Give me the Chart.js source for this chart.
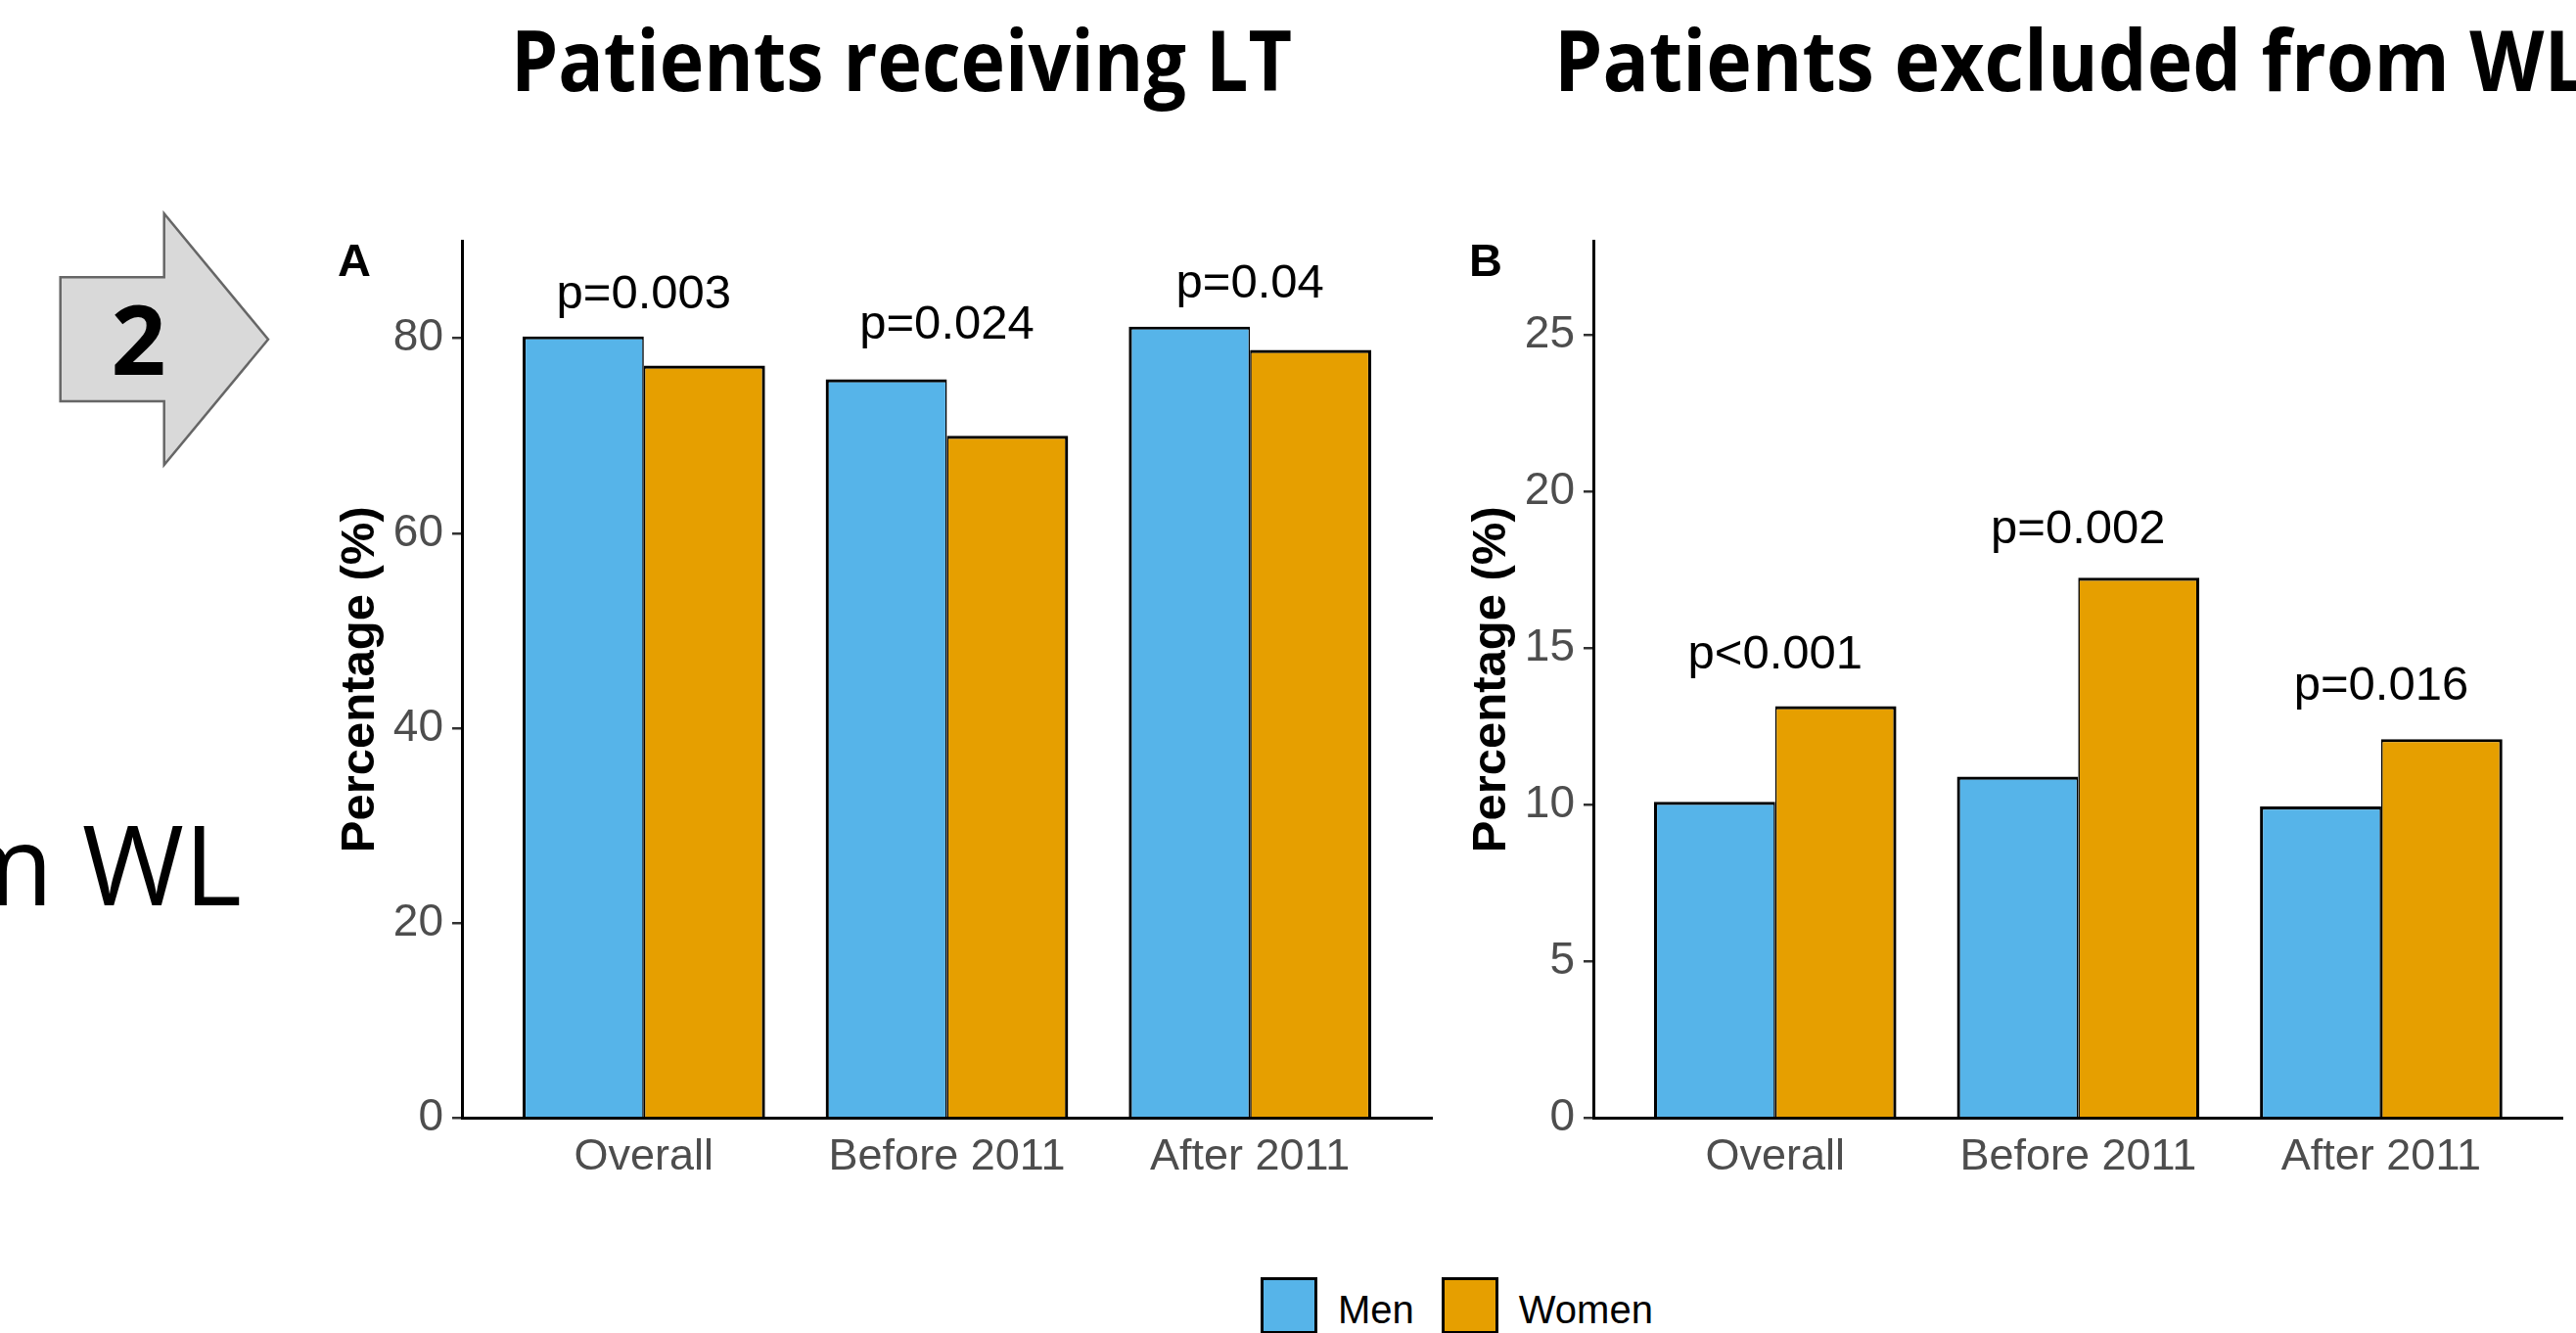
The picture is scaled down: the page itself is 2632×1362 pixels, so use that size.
<!DOCTYPE html>
<html>
<head>
<meta charset="utf-8">
<title>Patients receiving LT / excluded from WL</title>
<script src="https://cdn.jsdelivr.net/npm/chart.js@4.4.1/dist/chart.umd.min.js"></script>
<style>
  body { margin: 0; width: 2632px; height: 1362px; overflow: hidden; background: #fff; position: relative; }
  canvas, svg { position: absolute; }
  #legend { position: absolute; left: 1288px; top: 1305px; display: flex; align-items: flex-start;
            font-family: "Liberation Sans", Arial, sans-serif; font-size: 40px; line-height: 1; color: #000; }
  #legend .box { width: 58px; height: 58px; box-sizing: border-box; border: 3px solid #000; }
  #legend .txt { margin: 13px 28px 0 21px; }
  #legend .txt:last-child { margin-right: 0; }
</style>
</head>
<body>
<svg width="2632" height="1362" style="left:0;top:0">
  <polygon points="61.7,283.3 167.7,283.3 167.7,218.3 274,346.7 167.7,475 167.7,410 61.7,410"
           fill="#D9D9D9" stroke="#666666" stroke-width="2.5"/>
  <text x="141.5" y="383" text-anchor="middle" font-family="Open Sans" font-weight="700" font-size="98">2</text>
  <text x="522" y="93" textLength="798" lengthAdjust="spacingAndGlyphs"
        font-family="Open Sans" font-weight="700" font-size="86">Patients receiving LT</text>
  <text x="1588" y="93" textLength="1056" lengthAdjust="spacingAndGlyphs"
        font-family="Open Sans" font-weight="700" font-size="86">Patients excluded from WL</text>
  <text x="247" y="925" text-anchor="end" font-family="Open Sans" font-size="113">from WL</text>
</svg>
<canvas id="chartA" width="1180" height="1060" style="left:300px;top:200px"></canvas>
<canvas id="chartB" width="1176" height="1060" style="left:1456px;top:200px"></canvas>
<div id="legend"></div>

<script>
// data
const categories = ['Overall', 'Before 2011', 'After 2011'];
const seriesNames = ['Men', 'Women'];
const seriesColors = ['#56B4E9', '#E69F00'];

// panel A: patients receiving LT (%)
const ltMen = [80.2, 75.8, 81.2];
const ltWomen = [77.2, 70.0, 78.8];
const ltPText = ['p=0.003', 'p=0.024', 'p=0.04'];
const ltPY = [83.1, 80.0, 84.2];
const ltTicks = [0, 20, 40, 60, 80];
const ltMax = 90;

// panel B: patients excluded from WL (%)
const wlMen = [10.1, 10.9, 9.95];
const wlWomen = [13.15, 17.25, 12.1];
const wlPText = ['p<0.001', 'p=0.002', 'p=0.016'];
const wlPY = [14.35, 18.35, 13.35];
const wlTicks = [0, 5, 10, 15, 20, 25];
const wlMax = 28;

Chart.defaults.font.family = '"Liberation Sans", Arial, sans-serif';

// p-values above the groups + panel letter
const annot = {
  id: 'annot',
  afterDatasetsDraw(chart, args, opts) {
    const { ctx, chartArea, scales: { x, y } } = chart;
    ctx.save();
    ctx.fillStyle = '#000';
    ctx.textAlign = 'center';
    ctx.textBaseline = 'alphabetic';
    ctx.font = '49px "Liberation Sans"';
    opts.text.forEach((t, i) => ctx.fillText(t, x.getPixelForValue(i + 1), y.getPixelForValue(opts.at[i])));
    ctx.textAlign = 'left';
    ctx.font = 'bold 47px "Liberation Sans"';
    ctx.fillText(opts.letter, chartArea.left - 127, chartArea.top + 36);
    ctx.restore();
  }
};

function makeChart(id, letter, men, women, pText, pY, ticks, yMax, padRight) {
  const vals = [men, women];
  new Chart(document.getElementById(id), {
    type: 'bar',
    data: {
      datasets: seriesNames.map((name, k) => ({
        label: name,
        data: vals[k].map((v, i) => ({ x: i + 1, y: v })),
        backgroundColor: seriesColors[k],
        borderColor: '#000',
        borderWidth: k === 0 ? { top: 3.2, left: 3.2, right: 1.6, bottom: 0 }
                             : { top: 3.2, left: 1.6, right: 3.2, bottom: 0 },
        categoryPercentage: 0.8,
        barPercentage: 1.0
      }))
    },
    options: {
      responsive: false,
      animation: false,
      layout: { padding: { top: 46, right: padRight, left: 0, bottom: 0 } },
      plugins: {
        legend: { display: false },
        tooltip: { enabled: false },
        annot: { text: pText, at: pY, letter: letter }
      },
      scales: {
        x: {
          type: 'linear', min: 0.4, max: 3.6, offset: false,
          afterBuildTicks: s => { s.ticks = categories.map((c, i) => ({ value: i + 1 })); },
          afterFit: s => { s.height = 117.4; },
          ticks: { callback: (v, i) => categories[i], color: '#4D4D4D', font: { size: 45 },
                   padding: 13, autoSkip: false, maxRotation: 0 },
          grid: { display: false, drawTicks: false },
          border: { display: true, color: '#000', width: 3 }
        },
        y: {
          min: 0, max: yMax,
          afterBuildTicks: s => { s.ticks = ticks.map(v => ({ value: v })); },
          afterFit: s => { s.width = 172; },
          ticks: { color: '#4D4D4D', font: { size: 46 }, padding: 9 },
          grid: { drawOnChartArea: false, drawTicks: true, tickLength: 10, color: '#333', lineWidth: 2.5 },
          border: { display: true, color: '#000', width: 3 },
          title: { display: true, text: 'Percentage (%)', color: '#000',
                   font: { size: 49, weight: 'bold' }, padding: { top: 39, bottom: 0 } }
        }
      }
    },
    plugins: [annot]
  });
}

makeChart('chartA', 'A', ltMen, ltWomen, ltPText, ltPY, ltTicks, ltMax, 17);
makeChart('chartB', 'B', wlMen, wlWomen, wlPText, wlPY, wlTicks, wlMax, 13.3);

// shared legend
const legend = document.getElementById('legend');
seriesNames.forEach((name, k) => {
  const box = document.createElement('div');
  box.className = 'box';
  box.style.background = seriesColors[k];
  const txt = document.createElement('span');
  txt.className = 'txt';
  txt.textContent = name;
  legend.appendChild(box);
  legend.appendChild(txt);
});
</script>
</body>
</html>
